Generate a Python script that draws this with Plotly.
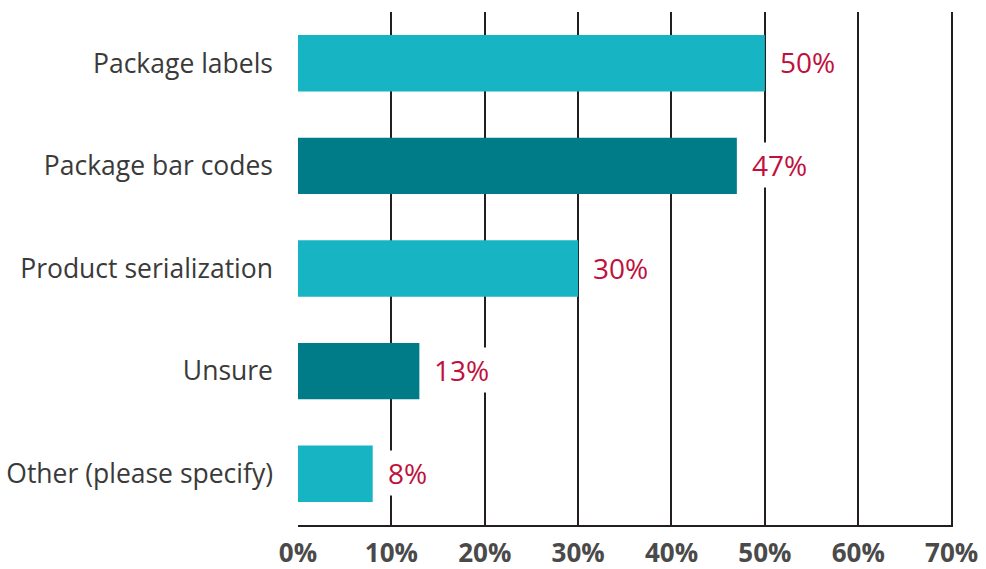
import plotly.graph_objects as go

categories = ["Package labels", "Package bar codes", "Product serialization",
              "Unsure", "Other (please specify)"]
values = [50, 47, 30, 13, 8]
bar_colors = ["#17b4c4", "#007c88", "#17b4c4", "#007c88", "#17b4c4"]
tick_vals = [0, 10, 20, 30, 40, 50, 60, 70]
tick_text = [f"{v}%" for v in tick_vals]

FONT = "'Open Sans', 'Noto Sans', sans-serif"
LINE = "#231f20"

fig = go.Figure(go.Bar(
    x=values,
    y=categories,
    orientation="h",
    marker=dict(color=bar_colors, line=dict(width=0)),
    width=0.55,
    hoverinfo="skip",
))

for cat, val in zip(categories, values):
    fig.add_annotation(
        x=val, y=cat, text=f"{val}%",
        xanchor="left", yanchor="middle", xshift=11, yshift=1,
        showarrow=False, bgcolor="white", borderpad=3,
        font=dict(family=FONT, size=28, color="#c0103e"),
    )

fig.update_layout(
    width=986, height=569,
    margin=dict(l=298, r=33, t=12, b=44, autoexpand=False),
    paper_bgcolor="white", plot_bgcolor="white",
    showlegend=False,
    bargap=0.45,
    xaxis=dict(
        range=[0, 70.15], tickvals=tick_vals, ticktext=tick_text,
        showgrid=True, gridcolor=LINE, gridwidth=2,
        showline=True, linecolor=LINE, linewidth=2,
        zeroline=False, ticks="", ticklabelstandoff=4,
        tickfont=dict(family=FONT, size=26, color="#4a4a4a", weight="bold"),
        fixedrange=True, automargin=False,
    ),
    yaxis=dict(
        categoryorder="array", categoryarray=categories,
        autorange="reversed", showgrid=False, showline=False,
        zeroline=False, ticks="", ticklabelstandoff=24,
        tickfont=dict(family=FONT, size=26.5, color="#3a3a3a"),
        fixedrange=True, automargin=False,
    ),
)

fig.write_html("out.html")
